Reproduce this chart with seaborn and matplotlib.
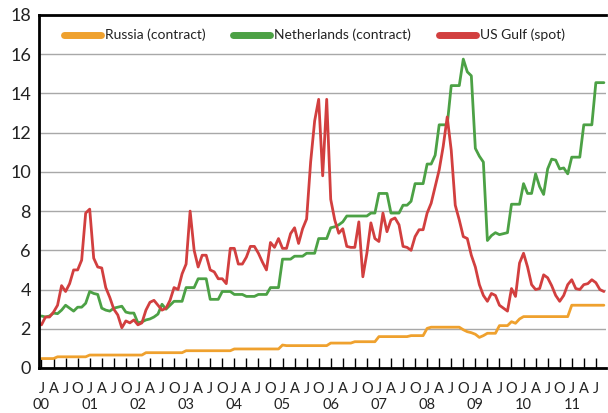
import numpy as np
import pandas as pd
import matplotlib
matplotlib.use("Agg")
import matplotlib.pyplot as plt
import seaborn as sns

# monthly gas prices, Jan 2000 - Sep 2011 (one row per year)
russia = [
    0.48, 0.48, 0.48, 0.48, 0.57, 0.57, 0.57, 0.57, 0.57, 0.57, 0.57, 0.57,
    0.66, 0.66, 0.66, 0.66, 0.66, 0.66, 0.66, 0.66, 0.66, 0.66, 0.66, 0.66,
    0.66, 0.66, 0.78, 0.78, 0.78, 0.78, 0.78, 0.78, 0.78, 0.78, 0.78, 0.78,
    0.88, 0.88, 0.88, 0.88, 0.88, 0.88, 0.88, 0.88, 0.88, 0.88, 0.88, 0.88,
    0.97, 0.97, 0.97, 0.97, 0.97, 0.97, 0.97, 0.97, 0.97, 0.97, 0.97, 0.97,
    1.17, 1.14, 1.14, 1.14, 1.14, 1.14, 1.14, 1.14, 1.14, 1.14, 1.14, 1.14,
    1.27, 1.27, 1.27, 1.27, 1.27, 1.27, 1.34, 1.34, 1.34, 1.34, 1.34, 1.34,
    1.60, 1.60, 1.60, 1.60, 1.60, 1.60, 1.60, 1.60, 1.65, 1.65, 1.65, 1.65,
    2.02, 2.08, 2.08, 2.08, 2.08, 2.08, 2.08, 2.08, 2.08, 1.95, 1.85, 1.80,
    1.72, 1.56, 1.65, 1.77, 1.77, 1.77, 2.16, 2.16, 2.16, 2.36, 2.28, 2.50,
    2.62, 2.62, 2.62, 2.62, 2.62, 2.62, 2.62, 2.62, 2.62, 2.62, 2.62, 2.62,
    3.20, 3.20, 3.20, 3.20, 3.20, 3.20, 3.20, 3.20, 3.20,
]
netherlands = [
    2.65, 2.60, 2.65, 2.80, 2.77, 2.95, 3.20, 3.05, 2.90, 3.10, 3.10, 3.30,
    3.90, 3.80, 3.75, 3.05, 2.95, 2.90, 3.05, 3.10, 3.15, 2.85, 2.80, 2.80,
    2.30, 2.35, 2.45, 2.50, 2.60, 2.75, 3.25, 3.00, 3.20, 3.40, 3.40, 3.40,
    4.10, 4.10, 4.10, 4.55, 4.55, 4.55, 3.50, 3.50, 3.50, 3.90, 3.90, 3.90,
    3.75, 3.75, 3.75, 3.65, 3.65, 3.65, 3.75, 3.75, 3.75, 4.10, 4.10, 4.10,
    5.55, 5.55, 5.55, 5.70, 5.70, 5.70, 5.85, 5.85, 5.85, 6.60, 6.60, 6.60,
    7.15, 7.20, 7.30, 7.45, 7.75, 7.75, 7.75, 7.75, 7.75, 7.75, 7.90, 7.90,
    8.90, 8.90, 8.90, 7.90, 7.90, 7.90, 8.30, 8.30, 8.50, 9.40, 9.40, 9.40,
    10.40, 10.40, 10.85, 12.40, 12.40, 12.40, 14.40, 14.40, 14.40, 15.75, 15.10, 14.90,
    11.20, 10.80, 10.50, 6.50, 6.75, 6.90, 6.80, 6.85, 6.90, 8.35, 8.35, 8.35,
    9.40, 8.90, 8.90, 9.90, 9.25, 8.85, 10.15, 10.65, 10.60, 10.15, 10.20, 9.90,
    10.75, 10.75, 10.75, 12.40, 12.40, 12.40, 14.55, 14.55, 14.55,
]
us_gulf = [
    2.20, 2.60, 2.60, 2.85, 3.20, 4.20, 3.90, 4.30, 5.00, 5.00, 5.50, 7.90,
    8.10, 5.60, 5.15, 5.10, 4.10, 3.60, 3.00, 2.70, 2.05, 2.40, 2.30, 2.45,
    2.20, 2.30, 2.95, 3.35, 3.45, 3.20, 2.95, 3.05, 3.45, 4.10, 4.00, 4.80,
    5.30, 8.00, 6.00, 5.15, 5.75, 5.75, 5.00, 4.90, 4.55, 4.55, 4.30, 6.10,
    6.10, 5.30, 5.30, 5.65, 6.20, 6.20, 5.85, 5.40, 5.00, 6.40, 6.15, 6.60,
    6.10, 6.10, 6.85, 7.15, 6.35, 7.10, 7.60, 10.50, 12.60, 13.70, 9.80, 13.70,
    8.60, 7.55, 6.87, 7.10, 6.20, 6.15, 6.15, 7.45, 4.65, 5.85, 7.40, 6.60,
    6.45, 7.90, 6.95, 7.55, 7.65, 7.30, 6.20, 6.15, 6.00, 6.70, 7.05, 7.05,
    7.90, 8.40, 9.25, 10.10, 11.30, 12.80, 11.10, 8.30, 7.55, 6.70, 6.60, 5.75,
    5.15, 4.25, 3.70, 3.40, 3.80, 3.70, 3.20, 3.05, 2.90, 4.05, 3.65, 5.35,
    5.85, 5.15, 4.25, 4.00, 4.05, 4.75, 4.60, 4.20, 3.70, 3.40, 3.70, 4.25,
    4.50, 4.05, 4.00, 4.25, 4.30, 4.50, 4.35, 4.00, 3.90,
]

series_names = ["Russia (contract)", "Netherlands (contract)", "US Gulf (spot)"]
colors = ["#efa12e", "#4ca145", "#d23f3f"]
month_letters = ["J", "A", "J", "O"]
year_labels = ["00", "01", "02", "03", "04", "05", "06", "07", "08", "09", "10", "11"]

wide = pd.DataFrame({
    "month": np.arange(len(us_gulf)),
    series_names[0]: russia,
    series_names[1]: netherlands,
    series_names[2]: us_gulf,
})
long = wide.melt(id_vars="month", var_name="series", value_name="price")

sns.set_theme(style="white")
plt.rcParams["font.family"] = ["Lato", "DejaVu Sans"]

fig = plt.figure(figsize=(6.08, 4.13), dpi=100)
ax = fig.add_axes([0.0646, 0.109, 0.9326, 0.8547])

sns.lineplot(data=long, x="month", y="price", hue="series", hue_order=series_names,
             palette=colors, linewidth=2, ax=ax)

ax.set_xlim(-0.55, 140.6)
ax.set_ylim(0, 18)
ax.set_yticks(range(0, 19, 2))
ax.yaxis.grid(True, color="#a8a8a8", linewidth=1)
ax.xaxis.grid(False)
ax.set_xlabel("")
ax.set_ylabel("")

quarter_ticks = list(range(0, len(us_gulf), 3))
ax.set_xticks(quarter_ticks)
ax.set_xticklabels([month_letters[i % 4] for i in range(len(quarter_ticks))])
ax.tick_params(axis="x", direction="in", length=7, width=1, color="black",
               pad=10, labelsize=10.5, labelcolor="#222222", bottom=True)
ax.tick_params(axis="y", length=0, pad=6, labelsize=13, labelcolor="#222222")

for i, yl in enumerate(year_labels):
    ax.annotate(yl, xy=(i * 12, 0), xycoords=("data", "axes fraction"),
                xytext=(0, -21.5), textcoords="offset points",
                ha="center", va="top", fontsize=10.5, color="#222222")

for side in ["left", "bottom", "top"]:
    ax.spines[side].set_visible(True)
    ax.spines[side].set_color("black")
    ax.spines[side].set_linewidth(2)
ax.spines["right"].set_visible(False)

leg = ax.legend(loc="center left", bbox_to_anchor=(0.0436, 0.943), ncol=3,
                frameon=False, fontsize=10, handlelength=2.65, handletextpad=0.3,
                columnspacing=2.0, borderpad=0, borderaxespad=0)
for line in leg.get_lines():
    line.set_linewidth(5)
for t in leg.get_texts():
    t.set_color("#222222")

fig.savefig("out.png", dpi=100)
